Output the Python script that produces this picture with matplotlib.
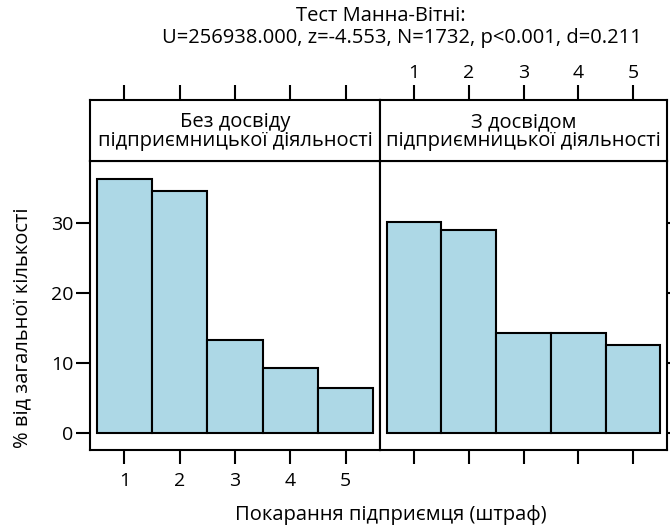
import matplotlib
matplotlib.use('Agg')
import matplotlib.pyplot as plt

plt.rcParams['font.family'] = ['Open Sans', 'DejaVu Sans']

# Data
penalty = [1, 2, 3, 4, 5]
no_exp_pct = [36.3, 34.6, 13.2, 9.25, 6.4]
with_exp_pct = [30.1, 29.0, 14.2, 14.2, 12.5]
panel_titles = ['Без досвіду\nпідприємницької діяльності',
                'З досвідом\nпідприємницької діяльності']
y_ticks = [0, 10, 20, 30]

bar_color = '#ADD8E6'
lw = 1.5

fig = plt.figure(figsize=(6.7, 5.27), dpi=100)

W, H = 670, 527
def px_rect(x0, y0, x1, y1):
    return [x0 / W, 1 - y1 / H, (x1 - x0) / W, (y1 - y0) / H]

ax_l = fig.add_axes(px_rect(90, 161, 380, 450))
ax_r = fig.add_axes(px_rect(380, 161, 667, 450), sharey=ax_l)
st_l = fig.add_axes(px_rect(90, 100, 380, 161), sharex=ax_l)
st_r = fig.add_axes(px_rect(380, 100, 667, 161), sharex=ax_r)

for ax, vals in [(ax_l, no_exp_pct), (ax_r, with_exp_pct)]:
    ax.bar(penalty, vals, width=1.0, color=bar_color, edgecolor='black', linewidth=lw)
    ax.set_xlim(0.38, 5.62)
    ax.set_xticks(penalty)
    for s in ax.spines.values():
        s.set_linewidth(lw)
    ax.tick_params(direction='out', length=10, width=lw, labelsize=14)

ax_l.set_ylim(-2.5, 38.9)
ax_l.set_yticks(y_ticks)
ax_l.tick_params(axis='x', pad=6)
ax_l.tick_params(axis='y', pad=2)
ax_r.tick_params(axis='x', labelbottom=False)
ax_r.tick_params(axis='y', left=False, labelleft=False, right=True)

for st, title, show_labels in [(st_l, panel_titles[0], False), (st_r, panel_titles[1], True)]:
    st.set_ylim(0, 1)
    st.set_yticks([])
    for s in st.spines.values():
        s.set_linewidth(lw)
    st.tick_params(axis='x', bottom=False, labelbottom=False, top=True,
                   labeltop=show_labels, direction='out', length=11, width=lw,
                   labelsize=14, pad=2)
    st.text(0.5, 0.48, title, transform=st.transAxes, ha='center', va='center',
            fontsize=14.5, linespacing=0.95)

fig.text(381 / W, 1 - 16 / H, 'Тест Манна-Вітні:', ha='center', va='center', fontsize=14.5)
fig.text(402 / W, 1 - 38 / H, 'U=256938.000, z=-4.553, N=1732, p<0.001, d=0.211',
         ha='center', va='center', fontsize=14.5)
fig.text(22 / W, 1 - 328 / H, '% від загальної кількості', rotation=90,
         ha='center', va='center', fontsize=14.5)
fig.text(391 / W, 1 - 515 / H, 'Покарання підприємця (штраф)',
         ha='center', va='center', fontsize=14.5)

fig.savefig('out.png', dpi=100)
